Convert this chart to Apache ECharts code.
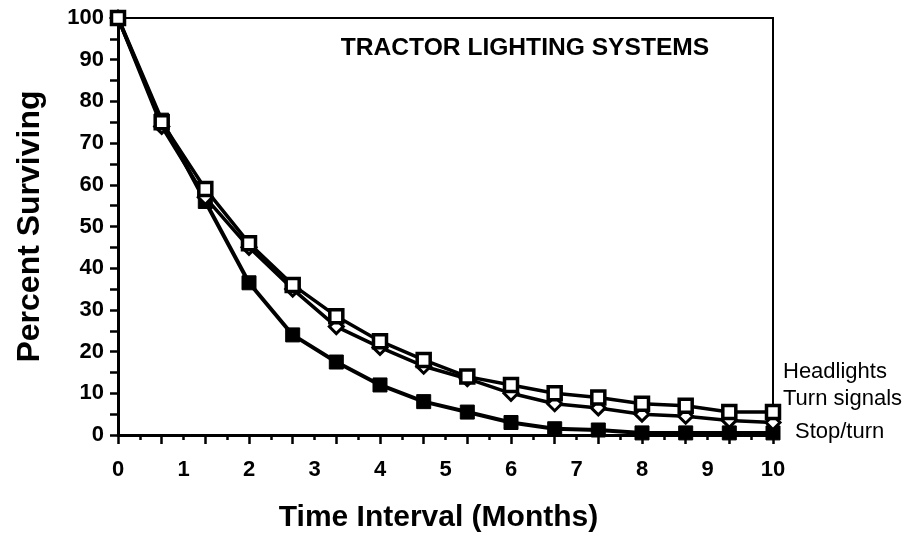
<!DOCTYPE html>
<html>
<head>
<meta charset="utf-8">
<script src="https://cdn.jsdelivr.net/npm/echarts@6/dist/echarts.min.js"></script>
<style>
  html, body { margin: 0; padding: 0; background: #ffffff; }
  #chart-container { width: 909px; height: 540px; }
</style>
</head>
<body>
<div id="chart-container"></div>
<script>
const months = [0, 0.667, 1.333, 2, 2.667, 3.333, 4, 4.667, 5.333, 6, 6.667, 7.333, 8, 8.667, 9.333, 10];
const headlights = [100, 75, 59, 46, 36, 28.5, 22.5, 18, 14, 12, 10, 9, 7.5, 7, 5.5, 5.5];
const turnSignals = [100, 74, 57, 45, 35, 26, 21, 16.5, 13.5, 10, 7.5, 6.5, 5, 4.5, 3.5, 3];
const stopTurn = [100, 75.5, 56, 36.5, 24, 17.5, 12, 8, 5.5, 3, 1.5, 1.2, 0.5, 0.5, 0.5, 0.5];
const seriesNames = ['Headlights', 'Turn signals', 'Stop/turn'];

const textColor = '#000000';
const fontFamily = '"Liberation Sans", Arial, sans-serif';

const toPairs = (values) => values.map((v, i) => [months[i], v]);

const chartContainer = document.getElementById('chart-container');
const myChart = echarts.init(chartContainer);

const options = {
    animation: false,
    backgroundColor: '#ffffff',
    textStyle: { fontFamily: fontFamily, color: textColor },
    title: {
        text: 'TRACTOR LIGHTING SYSTEMS',
        left: 520,
        top: 31,
        textAlign: 'center',
        textStyle: {
            fontSize: 24.6,
            fontWeight: 'bold',
            color: textColor,
            fontFamily: fontFamily
        }
    },
    grid: {
        left: 118,
        right: 136,
        top: 18,
        bottom: 105,
        show: true,
        borderColor: textColor,
        borderWidth: 2
    },
    xAxis: [{
        type: 'value',
        min: 0,
        max: 10,
        interval: 2 / 3,
        name: 'Time Interval (Months)',
        nameLocation: 'middle',
        nameGap: 68,
        nameTextStyle: {
            fontSize: 30,
            fontWeight: 'bold',
            color: textColor,
            fontFamily: fontFamily,
            padding: [0, 14, 0, 0]
        },
        axisLine: { show: true, lineStyle: { color: textColor, width: 3 } },
        axisTick: { show: true, inside: false, length: 9, lineStyle: { color: textColor, width: 2.5 } },
        minorTick: { show: true, splitNumber: 2, length: 5, lineStyle: { color: textColor, width: 2.5 } },
        axisLabel: { show: false },
        splitLine: { show: false }
    }, {
        type: 'value',
        min: 0,
        max: 10,
        interval: 1,
        position: 'bottom',
        axisLine: { show: false },
        axisTick: { show: false },
        splitLine: { show: false },
        axisLabel: {
            show: true,
            margin: 24,
            fontSize: 22,
            fontWeight: 'bold',
            color: textColor,
            fontFamily: fontFamily
        }
    }],
    yAxis: {
        type: 'value',
        min: 0,
        max: 100,
        interval: 10,
        name: 'Percent Surviving',
        nameLocation: 'middle',
        nameGap: 72,
        nameTextStyle: {
            fontSize: 32,
            fontWeight: 'bold',
            color: textColor,
            fontFamily: fontFamily
        },
        axisLine: { show: true, lineStyle: { color: textColor, width: 3 } },
        axisTick: { show: true, inside: false, length: 8, lineStyle: { color: textColor, width: 2.5 } },
        minorTick: { show: true, splitNumber: 2, length: 8, lineStyle: { color: textColor, width: 2.5 } },
        axisLabel: {
            margin: 14,
            fontSize: 22,
            fontWeight: 'bold',
            color: textColor,
            fontFamily: fontFamily
        },
        splitLine: { show: false }
    },
    series: [{
        name: seriesNames[2],
        type: 'line',
        data: toPairs(stopTurn),
        symbol: 'rect',
        symbolSize: 14,
        lineStyle: { color: textColor, width: 4 },
        itemStyle: { color: textColor, borderColor: textColor, borderWidth: 1 },
        z: 2
    }, {
        name: seriesNames[1],
        type: 'line',
        data: toPairs(turnSignals),
        symbol: 'diamond',
        symbolSize: 14,
        lineStyle: { color: textColor, width: 3.5 },
        itemStyle: { color: '#ffffff', borderColor: textColor, borderWidth: 3 },
        z: 3
    }, {
        name: seriesNames[0],
        type: 'line',
        data: toPairs(headlights),
        symbol: 'rect',
        symbolSize: 13,
        lineStyle: { color: textColor, width: 3.5 },
        itemStyle: { color: '#ffffff', borderColor: textColor, borderWidth: 3.5 },
        z: 4
    }],
    graphic: [{
        type: 'text',
        left: 783,
        top: 361,
        style: { text: seriesNames[0], fontSize: 22, fontFamily: fontFamily, fill: textColor }
    }, {
        type: 'text',
        left: 783,
        top: 388,
        style: { text: seriesNames[1], fontSize: 22, fontFamily: fontFamily, fill: textColor }
    }, {
        type: 'text',
        left: 795,
        top: 421,
        style: { text: seriesNames[2], fontSize: 22, fontFamily: fontFamily, fill: textColor }
    }]
};

myChart.setOption(options);
</script>
</body>
</html>
